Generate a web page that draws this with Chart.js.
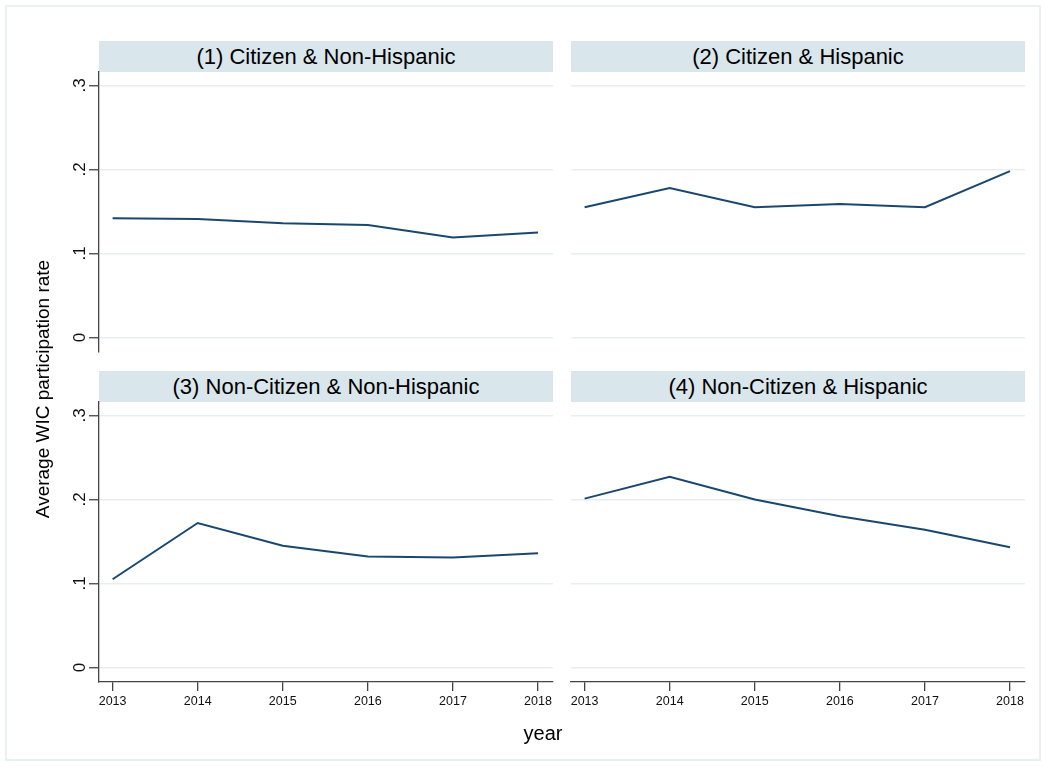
<!DOCTYPE html>
<html>
<head>
<meta charset="utf-8">
<script src="https://cdn.jsdelivr.net/npm/chart.js@4.4.1/dist/chart.umd.min.js"></script>
<style>
    body { margin: 0; background: #fff; font-family: "Liberation Sans", Arial, sans-serif; }
    #page { position: relative; width: 1047px; height: 767px; overflow: hidden; background: #fff; }
    .frame { position: absolute; left: 5px; top: 5px; width: 1032px; height: 752px; border: 2px solid #eaf1f3; }
    .strip { position: absolute; height: 31px; line-height: 31px; background: #d9e6eb; text-align: center; font-size: 22px; color: #000; white-space: nowrap; }
    canvas { position: absolute; }
    .ytitle { position: absolute; width: 320px; height: 24px; line-height: 24px; left: -117px; top: 377px; text-align: center; font-size: 19px; color: #000; transform: rotate(-90deg); white-space: nowrap; }
    .xtitle { position: absolute; width: 100px; height: 24px; line-height: 24px; left: 493px; top: 721px; text-align: center; font-size: 20px; color: #000; }
</style>
</head>
<body>
<div id="page">
    <div class="frame"></div>
    <div class="strip" id="s1" style="left:99px; top:41px; width:454px;"></div>
    <div class="strip" id="s2" style="left:571px; top:41px; width:454px;"></div>
    <div class="strip" id="s3" style="left:99px; top:371px; width:454px;"></div>
    <div class="strip" id="s4" style="left:571px; top:371px; width:454px;"></div>
    <canvas id="c1" width="533" height="320" style="left:40px; top:52px;"></canvas>
    <canvas id="c2" width="494" height="320" style="left:551px; top:52px;"></canvas>
    <canvas id="c3" width="533" height="350" style="left:40px; top:382px;"></canvas>
    <canvas id="c4" width="494" height="350" style="left:551px; top:382px;"></canvas>
    <div class="ytitle">Average WIC participation rate</div>
    <div class="xtitle">year</div>
</div>
<script>
const years = [2013, 2014, 2015, 2016, 2017, 2018];
const yTicks = [0, 0.1, 0.2, 0.3];
const yTickLabels = ['0', '.1', '.2', '.3'];
const panelTitles = [
    '(1) Citizen & Non-Hispanic',
    '(2) Citizen & Hispanic',
    '(3) Non-Citizen & Non-Hispanic',
    '(4) Non-Citizen & Hispanic'
];

// average WIC participation rate by year, per group
const citizenNonHisp = [0.142, 0.141, 0.136, 0.134, 0.119, 0.125];
const citizenHisp = [0.155, 0.178, 0.155, 0.159, 0.155, 0.198];
const nonCitizenNonHisp = [0.105, 0.172, 0.145, 0.132, 0.131, 0.136];
const nonCitizenHisp = [0.201, 0.227, 0.200, 0.180, 0.164, 0.143];

const LINE_COLOR = '#1a476f';
const GRID_COLOR = '#e8eff2';
const AXIS_COLOR = '#444';

panelTitles.forEach((t, i) => {
    document.getElementById('s' + (i + 1)).textContent = t;
});

function makePanel(id, values, showYLabels, showX) {
    const ctx = document.getElementById(id).getContext('2d');
    return new Chart(ctx, {
        type: 'line',
        data: {
            datasets: [{
                data: years.map((y, i) => ({ x: y, y: values[i] })),
                borderColor: LINE_COLOR,
                borderWidth: 2,
                pointRadius: 0,
                tension: 0,
                fill: false
            }]
        },
        options: {
            responsive: false,
            animation: false,
            layout: { padding: { top: 20, right: 20, bottom: 20, left: 0 } },
            plugins: {
                legend: { display: false },
                tooltip: { enabled: false }
            },
            scales: {
                x: {
                    type: 'linear',
                    display: showX,
                    min: 2012.84,
                    max: 2018.176,
                    afterBuildTicks: s => { s.ticks = years.map(v => ({ value: v })); },
                    afterFit: s => { s.height = showX ? 30 : 0; },
                    border: { display: true, color: AXIS_COLOR, width: 1.3 },
                    grid: { drawOnChartArea: false, drawTicks: true, tickLength: 9, tickColor: AXIS_COLOR, lineWidth: 1.3 },
                    ticks: {
                        color: '#111',
                        padding: 3,
                        maxRotation: 0,
                        font: { family: '"Liberation Sans", Arial, sans-serif', size: 12.5 },
                        callback: v => String(v)
                    }
                },
                y: {
                    type: 'linear',
                    min: -0.0173,
                    max: 0.316,
                    afterBuildTicks: s => { s.ticks = yTicks.map(v => ({ value: v })); },
                    afterFit: s => { s.width = showYLabels ? 59 : 20; },
                    border: { display: showYLabels, color: AXIS_COLOR, width: 1.3 },
                    grid: {
                        color: GRID_COLOR,
                        lineWidth: 1.5,
                        drawTicks: showYLabels,
                        tickLength: 10,
                        tickColor: AXIS_COLOR,
                        tickWidth: 1.3
                    },
                    ticks: {
                        display: showYLabels,
                        color: '#111',
                        padding: 2,
                        minRotation: 90,
                        maxRotation: 90,
                        crossAlign: 'center',
                        font: { family: '"Liberation Sans", Arial, sans-serif', size: 17 },
                        callback: (v, i) => yTickLabels[i]
                    }
                }
            }
        }
    });
}

makePanel('c1', citizenNonHisp, true, false);
makePanel('c2', citizenHisp, false, false);
makePanel('c3', nonCitizenNonHisp, true, true);
makePanel('c4', nonCitizenHisp, false, true);
</script>
</body>
</html>
